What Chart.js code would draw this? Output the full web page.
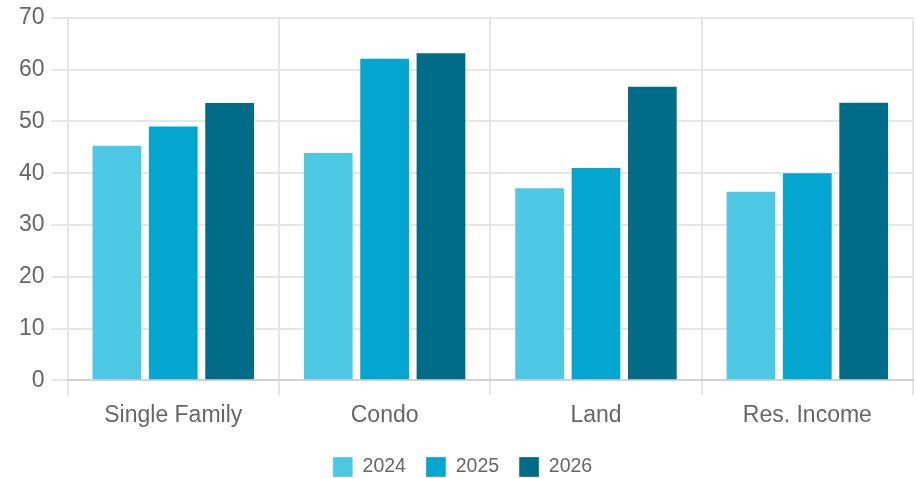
<!DOCTYPE html>
<html>
<head>
<meta charset="utf-8">
<script src="https://cdn.jsdelivr.net/npm/chart.js@4"></script>
<style>
  html, body { margin: 0; padding: 0; overflow: hidden; background: #fff; }
  #wrap { position: relative; width: 917px; height: 487px; }
</style>
</head>
<body>
<div id="wrap"><canvas id="myChart"></canvas></div>
<script>
// property types and yearly values
var categories = ["Single Family", "Condo", "Land", "Res. Income"];
var years = ["2024", "2025", "2026"];
var values2024 = [45.5, 44.1, 37.3, 36.6];
var values2025 = [49.2, 62.3, 41.2, 40.2];
var values2026 = [53.75, 63.35, 56.9, 53.8];
var yTicks = [0, 10, 20, 30, 40, 50, 60, 70];

var colors = ["#4dc8e4", "#02a6ce", "#006c87"];
var edges = ["rgba(255,255,255,0.35)", "rgba(255,255,255,0.35)", "rgba(255,255,255,0.3)"];
var series = [values2024, values2025, values2026];

Chart.defaults.font.family = "'Liberation Sans', Arial, Helvetica, sans-serif";
Chart.defaults.color = "#666";

const myChart = new Chart("myChart", {
  type: "bar",
  data: {
    labels: categories,
    datasets: years.map(function (y, i) {
      return {
        label: y,
        data: series[i],
        backgroundColor: colors[i],
        borderColor: edges[i],
        borderWidth: 1,
        categoryPercentage: 0.8,
        barPercentage: 0.9
      };
    })
  },
  options: {
    animation: false,
    responsive: true,
    maintainAspectRatio: false,
    layout: { padding: { left: 12, right: 4 } },
    plugins: {
      tooltip: { enabled: false },
      legend: {
        position: "bottom",
        labels: {
          boxWidth: 20,
          boxHeight: 20,
          padding: 20,
          font: { size: 19.5 }
        }
      }
    },
    scales: {
      x: {
        grid: { color: "#e6e6e6", lineWidth: 2, tickLength: 15 },
        border: { color: "#d2d2d2", width: 2 },
        ticks: { font: { size: 23 }, padding: 6 },
        // a little room between the category labels and the legend
        afterFit: function (scale) { scale.height += 2; }
      },
      y: {
        min: 0,
        max: 70,
        afterBuildTicks: function (axis) {
          axis.ticks = yTicks.map(function (v) { return { value: v }; });
        },
        afterFit: function (scale) { scale.paddingTop -= 3; },
        grid: { color: "#e6e6e6", lineWidth: 2, tickLength: 16 },
        border: { display: false },
        ticks: { font: { size: 23 }, padding: 7 }
      }
    }
  }
});
</script>
</body>
</html>
